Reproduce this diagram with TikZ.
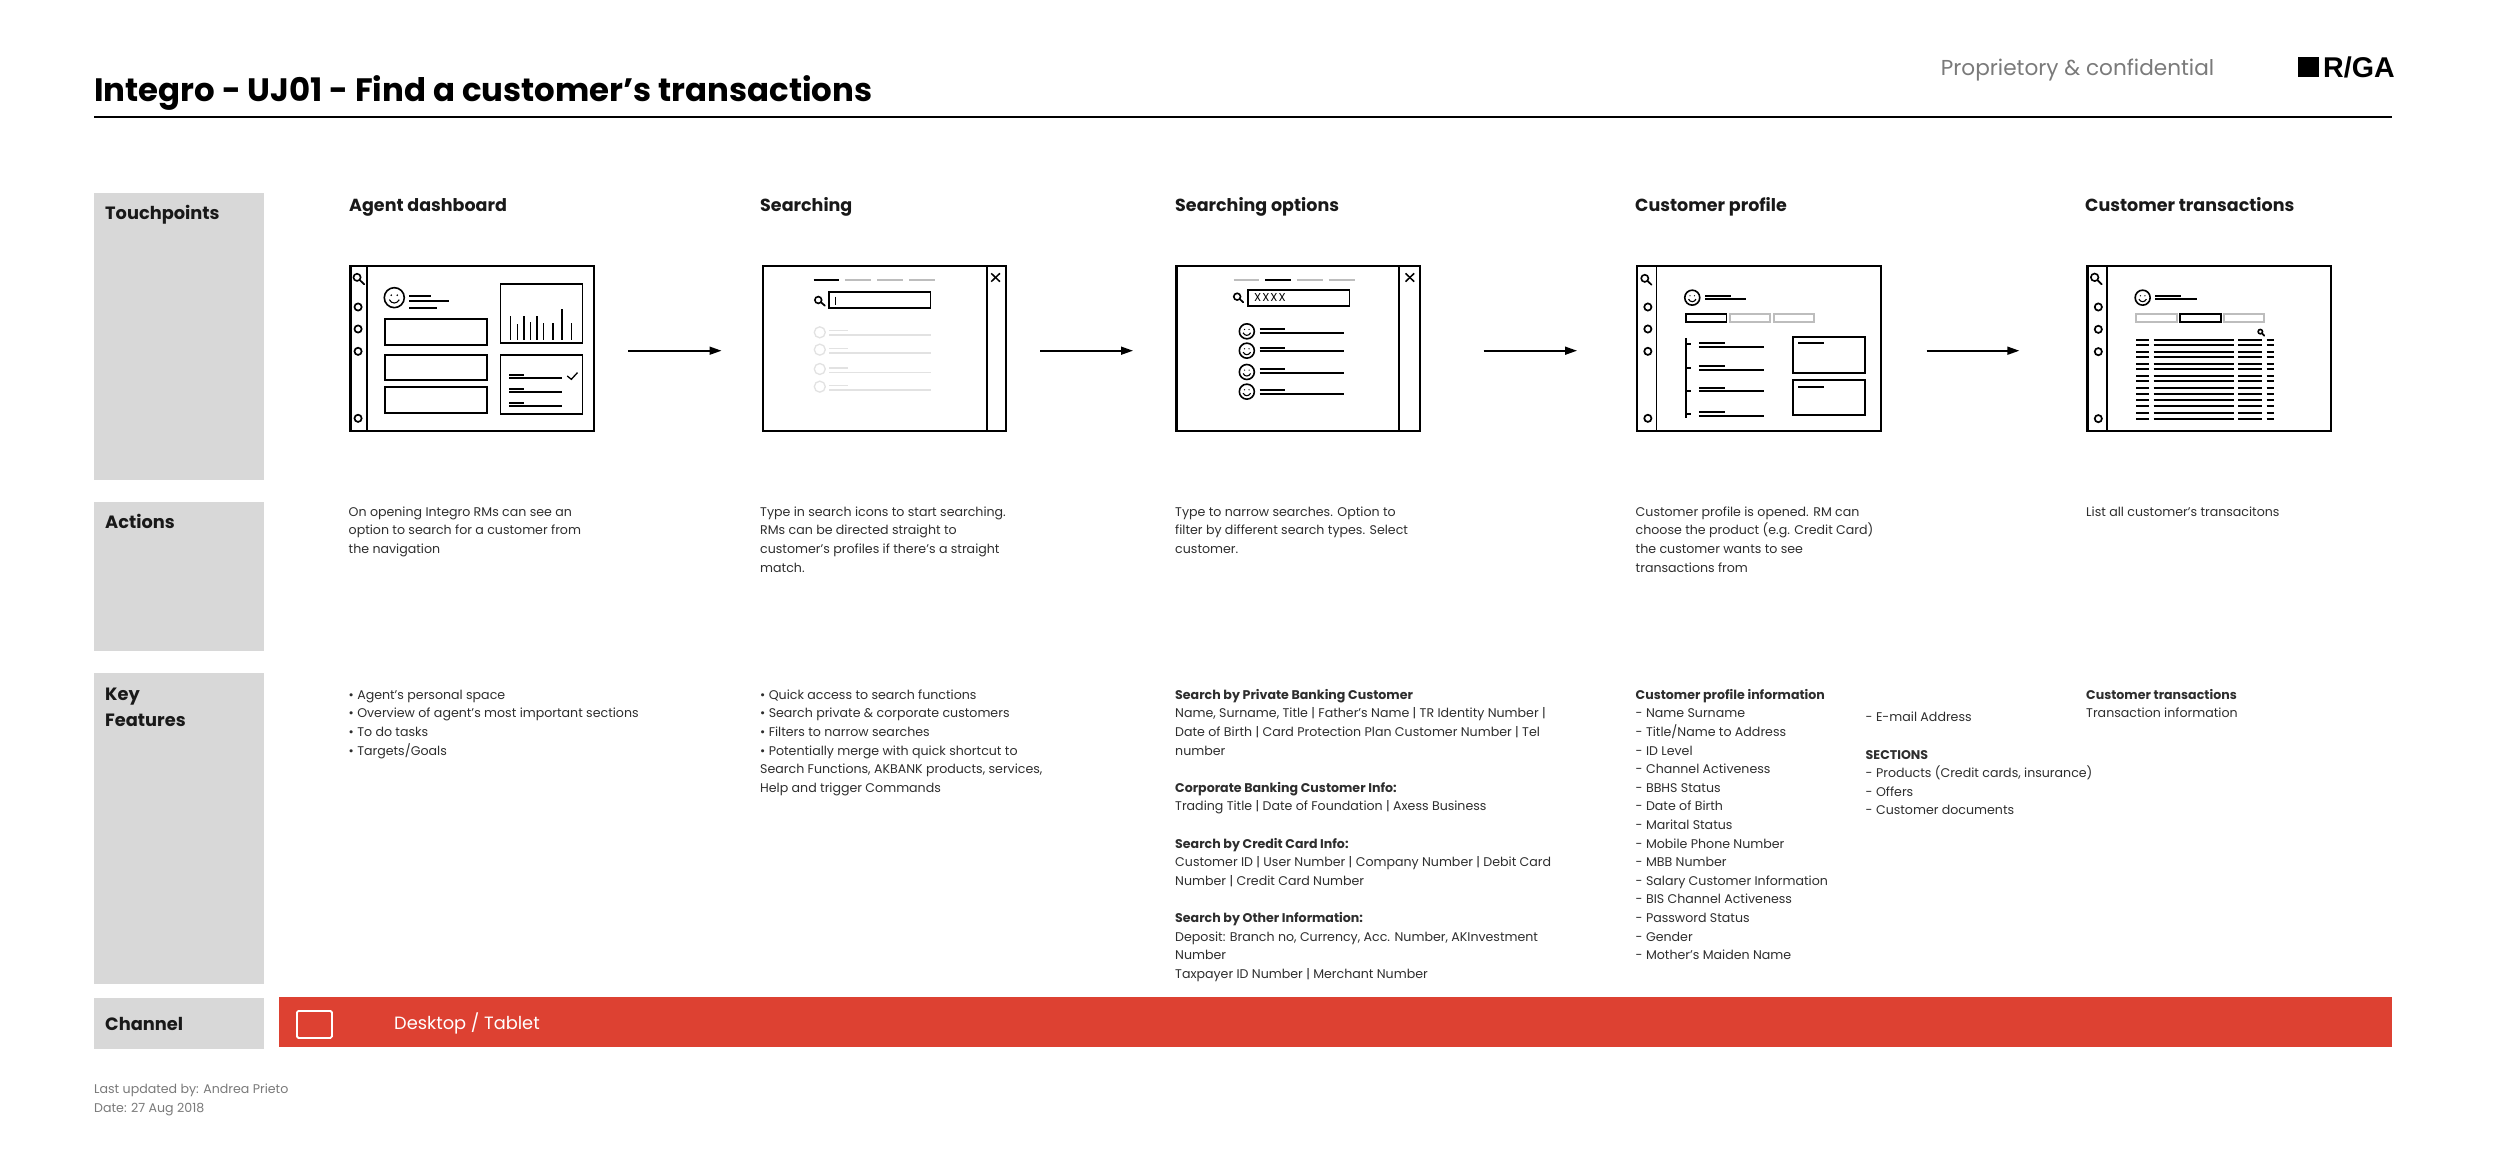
\documentclass[tikz,border=0pt]{standalone}
\usepackage{fontspec}
\setmainfont{Poppins}
\newfontfamily\logofont{Liberation Sans}
\usetikzlibrary{arrows.meta}
\definecolor{rowgray}{HTML}{D8D8D8}
\definecolor{bandred}{HTML}{DD4132}
\definecolor{ink}{HTML}{2E2E2E}
\definecolor{softgray}{HTML}{7A7A7A}
\definecolor{tabgray}{HTML}{BDBDBD}
\definecolor{faint}{HTML}{E2E2E2}
\newcommand\fl{\rule{0pt}{14pt}}
\newcommand\Mag[3]{\draw[line width=1.7pt,line cap=round] #1 -- #2;\draw[line width=1.6pt,fill=white] #1 circle[radius=#3pt];}
\newcommand\Smile[2]{\begin{scope}[shift={#1},x=#2pt,y=-#2pt]
\draw[line width=1.6pt,fill=white] (0,0) circle[radius=1];
\fill (-.3,-.25) circle[radius=.09] (.3,-.25) circle[radius=.09];
\draw[line width=1.1pt] (-.5,.2) .. controls (-.25,.65) and (.25,.65) .. (.5,.2);
\end{scope}}
\newcommand\Xmark[2]{\draw[line width=1.5pt] #1 -- #2;}
\tikzset{
  rowbox/.style={fill=rowgray,draw=none,anchor=north west,inner sep=0pt,minimum width=170pt},
  winbox/.style={draw=black,line width=2.2pt,anchor=north west,inner sep=0pt,minimum width=243.5pt,minimum height=165pt},
  rowlabel/.style={anchor=base west,inner sep=0pt,font=\fontsize{17.8}{26.6}\selectfont\bfseries,text=black!90},
  heading/.style={anchor=base west,inner sep=0pt,font=\fontsize{17.5}{24}\selectfont\bfseries,text=black!90},
  txt/.style={anchor=north west,inner sep=0pt,yshift=14pt,align=left,font=\fontsize{12.6}{18.6}\selectfont,text=ink},
  flowarrow/.style={line width=1.6pt,-{Triangle[length=12pt,width=8pt]}},
  thin line/.style={line width=1.7pt},
  rule box/.style={line width=1.7pt,draw=black},
}
\begin{document}
\begin{tikzpicture}[x=1pt,y=-1pt]
\useasboundingbox (0,0) rectangle (2500,1162);
\fill[white] (0,0) rectangle (2500,1162);
% header
\node[anchor=base west,inner sep=0pt,font=\fontsize{32.4}{36}\selectfont\bfseries,text=black] (title) at (94,101.5) {Integro - UJ01 - Find a customer’s transactions};
\node[anchor=base west,inner sep=0pt,font=\fontsize{21.6}{26}\selectfont,text=softgray] (conf) at (1940.7,75.7) {Proprietory \& confidential};
\node[fill=black,anchor=north west,inner sep=0pt,minimum width=21pt,minimum height=20.5pt] (logosq) at (2298,56.7) {};
\node[anchor=base west,inner sep=0pt,font=\logofont\fontsize{28.6}{30}\selectfont\bfseries,text=black] (logotx) at (2323,77) {R/GA};
\coordinate (ruleL) at (94,116.7);
\coordinate (ruleR) at (2392,116.7);
\draw[line width=2pt] (ruleL) -- (ruleR);
% rows
\node[rowbox,minimum height=287pt] (rowT) at (94,193) {};
\node[rowbox,minimum height=149pt] (rowA) at (94,502) {};
\node[rowbox,minimum height=311pt] (rowK) at (94,673) {};
\node[rowbox,minimum height=51pt] (rowC) at (94,998) {};
\node[rowlabel] (lblT) at (105,219) {Touchpoints};
\node[rowlabel] (lblA) at (105,528.5) {Actions};
\node[rowlabel] (lblK) at (105,700) {Key};
\node[rowlabel] (lblF) at (105,726.5) {Features};
\node[rowlabel] (lblC) at (105,1030) {Channel};
% channel band
\node[fill=bandred,anchor=north west,inner sep=0pt,minimum width=2113pt,minimum height=50pt] (band) at (279,997) {};
\node[draw=white,line width=1.8pt,rounded corners=1.5pt,anchor=north west,inner sep=0pt,minimum width=35pt,minimum height=27pt] (tablet) at (296,1010) {};
\node[anchor=base west,inner sep=0pt,font=\fontsize{17.8}{24}\selectfont,text=white] (chan) at (394,1029) {Desktop / Tablet};
% headings
\node[heading] (h1) at (349,211) {Agent dashboard};
\node[heading] (h2) at (760,211) {Searching};
\node[heading] (h3) at (1175,211) {Searching options};
\node[heading] (h4) at (1635,211) {Customer profile};
\node[heading] (h5) at (2085,211) {Customer transactions};
% windows
\node[winbox] (win1) at (349.4,265) {};
\node[winbox] (win2) at (761.6,265) {};
\node[winbox] (win3) at (1175.4,265) {};
\node[winbox] (win4) at (1636,265) {};
\node[winbox] (win5) at (2086.3,265) {};
% arrows
\coordinate (a1s) at (628,350.7); \coordinate (a1e) at (721.5,350.7);
\coordinate (a2s) at (1040,350.7); \coordinate (a2e) at (1133,350.7);
\coordinate (a3s) at (1483.6,350.7); \coordinate (a3e) at (1577,350.7);
\coordinate (a4s) at (1926.7,350.7); \coordinate (a4e) at (2019.3,350.7);
\draw[flowarrow] (a1s) -- (a1e);
\draw[flowarrow] (a2s) -- (a2e);
\draw[flowarrow] (a3s) -- (a3e);
\draw[flowarrow] (a4s) -- (a4e);
% panels 1 and 2
\begin{scope}[shift={(330,240)},x=0.5102pt,y=-0.3333pt]
\draw[line width=2pt] (73,75) -- (73,570);
\Mag{(53,112)}{(67,133)}{3.6}
\foreach \y in {201,267,334,535} \draw[line width=1.7pt] (55,\y) circle[radius=3.6pt];
\Smile{(126,173)}{10}
\draw[thin line] (155,167) -- (198,167) (155,184) -- (234,184) (155,203) -- (210,203);
\draw[rule box] (108,238) rectangle (308,314) (108,344) rectangle (308,420) (108,441) rectangle (308,518);
\draw[rule box] (334,132) rectangle (495,309) (334,344) rectangle (495,521);
\foreach \x/\t in {354/227,367/252,380/227,393/247,406/227,419/250,437/250,455/208,473/250} \draw[line width=1.4pt] (\x,300) -- (\x,\t);
\draw[thin line] (351,404) -- (380,404) (351,414) -- (455,414) (351,446) -- (380,446) (351,456) -- (455,456) (351,488) -- (380,488) (351,498) -- (455,498);
\draw[line width=1.3pt] (465,408) -- (473,418) -- (485,398);
% panel 2
\draw[line width=1.8pt] (1287,75) -- (1287,570);
\Xmark{(1296,100)}{(1313,125)}\Xmark{(1313,100)}{(1296,125)}
\draw[line width=1.7pt] (948,120) -- (998,120);
\draw[line width=1.7pt,tabgray] (1009,120) -- (1060,120) (1073,120) -- (1124,120) (1135,120) -- (1186,120);
\Mag{(957,180)}{(970,197)}{3.4}
\draw[rule box] (978,157) rectangle (1177,205);
\draw[line width=1.3pt] (991,170) -- (991,195);
\foreach \y in {277,329,387,440} \draw[line width=1.3pt,faint] (960,\y) circle[radius=5.5pt];
\foreach \y/\z in {272/285,326/339,384/397,437/450} \draw[line width=1.3pt,faint] (979,\y) -- (1016,\y) (979,\z) -- (1178,\z);
\end{scope}
% panels 3 and 4
\begin{scope}[shift={(1130,240)},x=0.5102pt,y=-0.3333pt]
\draw[line width=1.8pt] (528,75) -- (528,570);
\Xmark{(540,100)}{(557,125)}\Xmark{(557,100)}{(540,125)}
\draw[line width=1.7pt,tabgray] (203,120) -- (253,120) (327,120) -- (379,120) (390,120) -- (440,120);
\draw[line width=1.7pt] (265,120) -- (315,120);
\Mag{(210,170)}{(222,187)}{3.4}
\draw[rule box] (231,149) rectangle (430,198);
\node[anchor=west,inner sep=0pt,font=\fontsize{11.5}{14}\selectfont,text=black] (xxxx) at (243,173) {X\kern1pt X\kern1pt X\kern1pt X};
\foreach \y in {274,332,396,455} {\Smile{(229,\y)}{7.5}}
\foreach \y/\z in {267/279,323/334,387/398,451/463} \draw[thin line] (254,\y) -- (304,\y) (254,\z) -- (420,\z);
% panel 4
\draw[line width=1.8pt] (1032,75) -- (1032,570);
\Mag{(1009,115)}{(1022,134)}{3.6}
\foreach \y in {201,267,334,535} \draw[line width=1.7pt] (1015,\y) circle[radius=3.6pt];
\Smile{(1102,173)}{7.5}
\draw[thin line] (1127,167) -- (1178,167) (1127,178) -- (1208,178);
\draw[rule box] (1090,221) rectangle (1169,247);
\draw[line width=1.7pt,tabgray] (1176,221) rectangle (1255,247) (1262,221) rectangle (1341,247);
\draw[thin line] (1090,294) -- (1090,533);
\foreach \y in {311,383,453,523} \draw[thin line] (1090,\y) -- (1099,\y);
\foreach \y/\z in {309/321,379/391,443/454,515/527} \draw[thin line] (1115,\y) -- (1167,\y) (1115,\z) -- (1242,\z);
\draw[rule box] (1300,291) rectangle (1441,398) (1300,419) rectangle (1441,526);
\draw[thin line] (1310,309) -- (1361,309) (1310,440) -- (1361,440);
\end{scope}
% panel 5
\begin{scope}[shift={(1900,240)},x=0.3333pt,y=-0.3333pt]
\draw[line width=1.8pt] (622,75) -- (622,570);
\Mag{(584,112)}{(605,133)}{3.8}
\foreach \y in {201,268,335,536} \draw[line width=1.7pt] (595,\y) circle[radius=3.6pt];
\Smile{(728,173)}{7.5}
\draw[thin line] (766,167) -- (844,167) (766,178) -- (891,178);
\draw[line width=1.7pt,tabgray] (709,221) rectangle (831,247) (971,221) rectangle (1093,247);
\draw[rule box] (840,221) rectangle (962,247);
\Mag{(1081,275)}{(1093,287)}{2.2}
\foreach \y in {299,315,336,352,372,388,408,424,444,463,480,499,519,537} \draw[thin line] (709,\y) -- (746,\y) (761,\y) -- (1002,\y) (1015,\y) -- (1086,\y) (1100,\y) -- (1121,\y);
\end{scope}
% actions
\node[txt] (act1) at (348.5,516) {\fl On opening Integro RMs can see an\\option to search for a customer from\\the navigation};
\node[txt] (act2) at (760,516) {\fl Type in search icons to start searching.\\RMs can be directed straight to\\customer’s profiles if there’s a straight\\match.};
\node[txt] (act3) at (1175,516) {\fl Type to narrow searches. Option to\\filter by different search types. Select\\customer.};
\node[txt] (act4) at (1635.5,516) {\fl Customer profile is opened. RM can\\choose the product (e.g. Credit Card)\\the customer wants to see\\transactions from};
\node[txt] (act5) at (2086,516) {\fl List all customer’s transacitons};
% key features
\node[txt] (key1) at (348.5,699) {\fl • Agent’s personal space\\• Overview of agent’s most important sections\\• To do tasks\\• Targets/Goals};
\node[txt] (key2) at (760,699) {\fl • Quick access to search functions\\• Search private \& corporate customers\\• Filters to narrow searches\\• Potentially merge with quick shortcut to\\Search Functions, AKBANK products, services,\\Help and trigger Commands};
\node[txt] (key3) at (1175,699) {\fl\textbf{Search by Private Banking Customer}\\Name, Surname, Title | Father's Name | TR Identity Number |\\Date of Birth | Card Protection Plan Customer Number | Tel\\number\\\rule{0pt}{14pt}\\\textbf{Corporate Banking Customer Info:}\\Trading Title | Date of Foundation | Axess Business\\\rule{0pt}{14pt}\\\textbf{Search by Credit Card Info:}\\Customer ID | User Number | Company Number | Debit Card\\Number | Credit Card Number\\\rule{0pt}{14pt}\\\textbf{Search by Other Information:}\\Deposit: Branch no, Currency, Acc. Number, AKInvestment\\Number\\Taxpayer ID Number | Merchant Number};
\node[txt] (key4) at (1635.5,699) {\fl\textbf{Customer profile information}\\- Name Surname\\- Title/Name to Address\\- ID Level\\- Channel Activeness\\- BBHS Status\\- Date of Birth\\- Marital Status\\- Mobile Phone Number\\- MBB Number\\- Salary Customer Information\\- BIS Channel Activeness\\- Password Status\\- Gender\\- Mother's Maiden Name};
\node[txt] (key4b) at (1865.5,721.7) {\fl - E-mail Address\\\rule{0pt}{14pt}\\\textbf{SECTIONS}\\- Products (Credit cards, insurance)\\- Offers\\- Customer documents};
\node[txt] (key5) at (2086,699) {\fl\textbf{Customer transactions}\\Transaction information};
% footer
\node[txt,text=softgray] (foot) at (94,1093.5) {\fl Last updated by: Andrea Prieto\\Date: 27 Aug 2018};
\end{tikzpicture}
\end{document}
